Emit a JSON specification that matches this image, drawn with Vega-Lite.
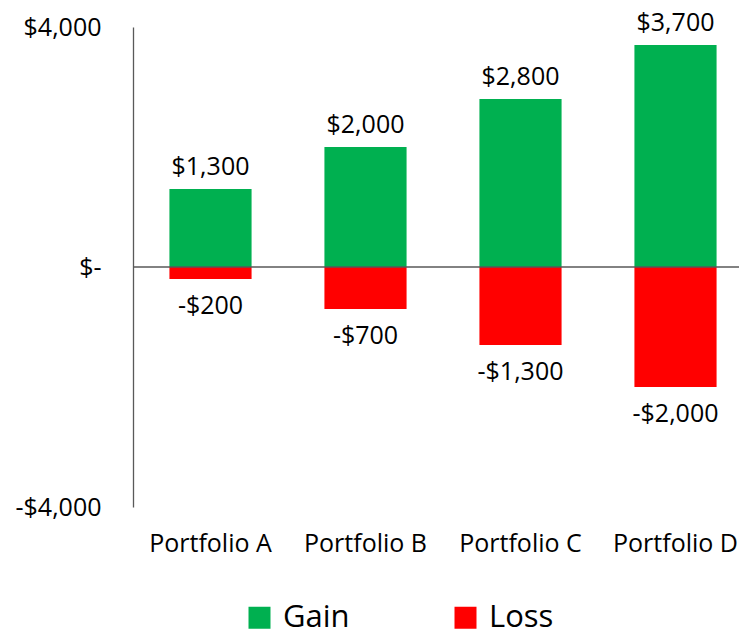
{
  "$schema": "https://vega.github.io/schema/vega-lite/v6.json",
  "autosize": "none",
  "width": 606,
  "height": 480,
  "padding": {"left": 133, "top": 27, "right": 0, "bottom": 129},
  "config": {
    "font": "Open Sans",
    "view": {"stroke": null},
    "axis": {"labelFont": "Open Sans", "labelColor": "#000000"},
    "legend": {"labelFont": "Open Sans"}
  },
  "data": {
    "values": [
      {"portfolio": "Portfolio A", "type": "Gain", "value": 1300},
      {"portfolio": "Portfolio A", "type": "Loss", "value": -200},
      {"portfolio": "Portfolio B", "type": "Gain", "value": 2000},
      {"portfolio": "Portfolio B", "type": "Loss", "value": -700},
      {"portfolio": "Portfolio C", "type": "Gain", "value": 2800},
      {"portfolio": "Portfolio C", "type": "Loss", "value": -1300},
      {"portfolio": "Portfolio D", "type": "Gain", "value": 3700},
      {"portfolio": "Portfolio D", "type": "Loss", "value": -2000}
    ]
  },
  "layer": [
    {
      "mark": {"type": "bar"},
      "encoding": {
        "x": {
          "field": "portfolio",
          "type": "nominal",
          "sort": null,
          "scale": {"range": [0, 620], "paddingInner": 0.47, "paddingOuter": 0.235},
          "axis": {
            "title": null,
            "domain": false,
            "ticks": false,
            "labelAngle": 0,
            "labelFontSize": 25,
            "labelPadding": 24,
            "labelColor": "#000000"
          }
        },
        "y": {
          "field": "value",
          "type": "quantitative",
          "stack": null,
          "scale": {"domain": [-4000, 4000], "nice": false},
          "axis": {
            "title": null,
            "values": [-4000, 0, 4000],
            "labelExpr": "datum.value == 0 ? '$-' : (datum.value < 0 ? '-$' : '$') + format(abs(datum.value), ',')",
            "labelFontSize": 25,
            "labelPadding": 32,
            "ticks": false,
            "grid": false,
            "domainColor": "#595959",
            "domainWidth": 1.3
          }
        },
        "color": {
          "field": "type",
          "type": "nominal",
          "scale": {"domain": ["Gain", "Loss"], "range": ["#00B050", "#FF0000"]},
          "legend": {
            "title": null,
            "orient": "none",
            "legendX": 111,
            "legendY": 575,
            "direction": "horizontal",
            "symbolType": "square",
            "symbolSize": 484,
            "symbolStrokeWidth": 0,
            "labelFontSize": 31,
            "labelOffset": 8,
            "columnPadding": 100,
            "labelColor": "#000000"
          }
        }
      }
    },
    {
      "transform": [
        {"filter": "datum.value >= 0"},
        {"calculate": "'$' + format(datum.value, ',')", "as": "label"}
      ],
      "mark": {"type": "text", "fontSize": 25, "color": "#000000", "baseline": "alphabetic", "dy": -14},
      "encoding": {
        "x": {"field": "portfolio", "type": "nominal", "sort": null},
        "y": {"field": "value", "type": "quantitative"},
        "text": {"field": "label"}
      }
    },
    {
      "transform": [
        {"filter": "datum.value < 0"},
        {"calculate": "'-$' + format(abs(datum.value), ',')", "as": "label"}
      ],
      "mark": {"type": "text", "fontSize": 25, "color": "#000000", "baseline": "alphabetic", "dy": 35},
      "encoding": {
        "x": {"field": "portfolio", "type": "nominal", "sort": null},
        "y": {"field": "value", "type": "quantitative"},
        "text": {"field": "label"}
      }
    },
    {
      "mark": {"type": "rule", "color": "#595959", "strokeWidth": 1.3},
      "data": {"values": [{"zero": 0}]},
      "encoding": {
        "y": {"field": "zero", "type": "quantitative"}
      }
    }
  ]
}
